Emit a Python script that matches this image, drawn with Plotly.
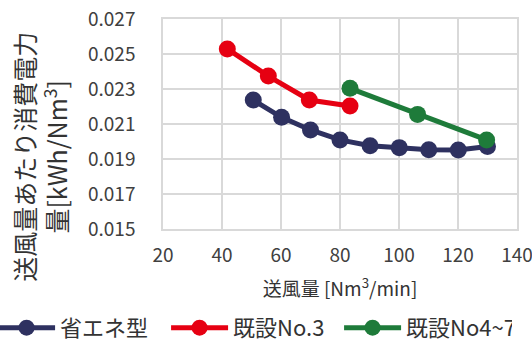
import plotly.graph_objects as go

eco_x = [50.6, 60.2, 70.0, 80.0, 90.2, 100.1, 110.1, 120.1, 130.0]
eco_y = [0.02237, 0.02138, 0.02066, 0.02009, 0.01976, 0.01965, 0.01953, 0.01952, 0.01972]
no3_x = [41.8, 55.7, 69.6, 83.4]
no3_y = [0.02529, 0.02374, 0.02237, 0.02203]
no47_x = [83.4, 106.3, 129.7]
no47_y = [0.02304, 0.02155, 0.02009]

names = ["省エネ型", "既設No.3", "既設No4~7"]
colors = ["#2E3160", "#E60012", "#1E7B3A"]

font = "Noto Sans CJK JP"
fig = go.Figure()
for xs, ys, n, c in [(eco_x, eco_y, names[0], colors[0]),
                     (no3_x, no3_y, names[1], colors[1]),
                     (no47_x, no47_y, names[2], colors[2])]:
    fig.add_trace(go.Scatter(x=xs, y=ys, name=n, mode="lines+markers",
                             line=dict(color=c, width=5),
                             marker=dict(color=c, size=17)))

fig.update_layout(
    width=532, height=343,
    margin=dict(l=163, r=15, t=19, b=114, autoexpand=False),
    paper_bgcolor="white", plot_bgcolor="white",
    font=dict(family=font, size=19, color="#404040"),
    showlegend=True,
    legend=dict(orientation="h", x=-0.48, xanchor="left", y=-0.471, yanchor="middle",
                font=dict(size=22, color="#333333"), itemwidth=57,
                entrywidth=101, entrywidthmode="pixels",
                tracegroupgap=0, bgcolor="rgba(0,0,0,0)"),
    xaxis=dict(range=[20, 140], tickvals=[20, 40, 60, 80, 100, 120, 140],
               showgrid=True, gridcolor="#D9D9D9", gridwidth=1.5,
               showline=True, linecolor="#D9D9D9", linewidth=1.5, mirror=True,
               zeroline=False, ticks="", ticklabelstandoff=8, automargin=False,
               ticklabeloverflow="allow",
               title=dict(text="送風量 [Nm<sup>3</sup>/min]", font=dict(size=19, color="#333333"), standoff=17)),
    yaxis=dict(range=[0.015, 0.027], tickvals=[0.015, 0.017, 0.019, 0.021, 0.023, 0.025, 0.027],
               tickformat=".3f", automargin=False, ticklabeloverflow="allow",
               showgrid=True, gridcolor="#D9D9D9", gridwidth=1.5,
               showline=True, linecolor="#D9D9D9", linewidth=1.5, mirror=True,
               zeroline=False, ticks="", ticklabelstandoff=22),
)
fig.add_annotation(text="送風量あたり消費電力<br>量[kWh/Nm<sup>3</sup>]", textangle=-90,
                   xref="paper", yref="paper", x=-0.345, y=0.343,
                   xanchor="center", yanchor="middle", showarrow=False,
                   font=dict(size=25, color="#333333", family=font))
fig.write_html("out.html", config={"displayModeBar": False},
               post_script="document.body.style.margin='0';document.body.style.padding='0';")
